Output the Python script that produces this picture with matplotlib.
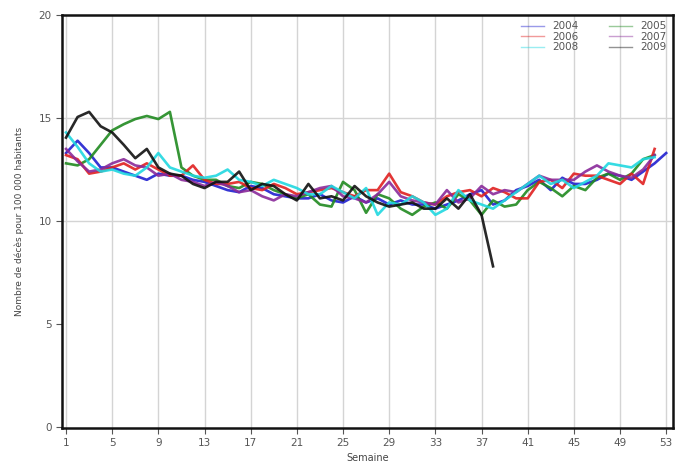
"""Weekly mortality per 100 000 inhabitants, 2004-2009."""
import numpy as np
import matplotlib
matplotlib.use('Agg')
import matplotlib.pyplot as plt

y2004 = [13.3, 13.9, 13.3, 12.6, 12.6, 12.4, 12.2, 12.0, 12.3, 12.2,
         12.2, 12.0, 11.9, 11.7, 11.5, 11.4, 11.7, 11.6, 11.3, 11.2,
         11.1, 11.1, 11.3, 11.0, 10.9, 11.2, 10.9, 11.1, 10.8, 11.0,
         10.8, 10.8, 10.6, 10.8, 11.0, 11.3, 11.5, 10.8, 11.0, 11.5,
         11.7, 12.0, 11.5, 12.1, 11.8, 11.8, 12.0, 12.3, 12.2, 12.0,
         12.4, 12.8, 13.3]
y2005 = [12.8, 12.7, 13.0, 13.7, 14.4, 14.7, 14.95, 15.1, 14.95, 15.3,
         12.6, 12.2, 12.0, 12.0, 11.7, 11.6, 11.9, 11.8, 11.5, 11.3,
         11.1, 11.3, 10.8, 10.7, 11.9, 11.5, 10.4, 11.3, 11.1, 10.6,
         10.3, 10.7, 10.9, 10.6, 11.3, 11.0, 10.3, 11.0, 10.7, 10.8,
         11.5, 11.9, 11.6, 11.2, 11.7, 11.5, 12.1, 12.3, 12.0, 12.3,
         13.0, 13.2]
y2006 = [13.2, 13.0, 12.3, 12.4, 12.6, 12.8, 12.5, 12.8, 12.5, 12.2,
         12.2, 12.7, 12.0, 11.8, 11.8, 11.9, 11.6, 11.5, 11.8, 11.6,
         11.3, 11.4, 11.5, 11.6, 11.4, 11.2, 11.5, 11.5, 12.3, 11.4,
         11.2, 10.9, 10.8, 11.2, 11.4, 11.5, 11.2, 11.6, 11.4, 11.1,
         11.1, 11.9, 12.0, 11.6, 12.3, 12.2, 12.2, 12.0, 11.8, 12.3,
         11.8, 13.5]
y2007 = [13.5, 12.9, 12.4, 12.5, 12.8, 13.0, 12.7, 12.6, 12.2, 12.3,
         12.0, 11.9, 11.7, 11.9, 11.7, 11.4, 11.5, 11.2, 11.0, 11.3,
         11.2, 11.4, 11.6, 11.7, 11.2, 11.1, 10.9, 11.3, 11.9, 11.2,
         11.0, 10.9, 10.8, 11.5, 10.9, 11.1, 11.7, 11.3, 11.5, 11.4,
         11.8, 12.2, 12.0, 12.0, 12.0, 12.4, 12.7, 12.4, 12.2, 12.1,
         12.5, 13.2]
y2008 = [14.3, 13.6, 12.8, 12.4, 12.5, 12.3, 12.2, 12.6, 13.3, 12.6,
         12.4, 12.2, 12.1, 12.2, 12.5, 12.0, 11.9, 11.7, 12.0, 11.8,
         11.6, 11.3, 11.3, 11.7, 11.4, 11.1, 11.6, 10.3, 10.9, 10.8,
         11.2, 10.9, 10.3, 10.6, 11.5, 11.0, 10.8, 10.6, 11.0, 11.4,
         11.8, 12.2, 11.8, 12.0, 11.6, 11.9, 12.2, 12.8, 12.7, 12.6,
         13.0, 13.1]
y2009 = [14.05, 15.05, 15.3, 14.6, 14.3, 13.7, 13.05, 13.5, 12.6, 12.3,
         12.2, 11.8, 11.6, 11.9, 11.9, 12.4, 11.5, 11.8, 11.7, 11.3,
         11.0, 11.8, 11.1, 11.2, 11.0, 11.7, 11.2, 10.9, 10.7, 10.8,
         10.9, 10.6, 10.6, 11.1, 10.6, 11.3, 10.3, 7.8]

series = [
    ('2004', y2004, '#2020d0'),
    ('2005', y2005, '#208a20'),
    ('2006', y2006, '#e02020'),
    ('2007', y2007, '#8a2a9a'),
    ('2008', y2008, '#20d8e0'),
    ('2009', y2009, '#101010'),
]
week_ticks = list(range(1, 54, 4))

fig = plt.figure(figsize=(6.76, 4.65), dpi=100)
ax = fig.add_axes([0.0917, 0.0796, 0.904, 0.888])

lines = {}
for name, vals, color in series:
    weeks = np.arange(1, len(vals) + 1)
    ln, = ax.plot(weeks, vals, color=color, lw=1.9, alpha=0.9, label=name)
    lines[name] = ln

for w in week_ticks:
    ax.axvline(w, color='#d4d4d4', lw=1, zorder=0)
for v in [10, 15]:
    ax.axhline(v, color='#d4d4d4', lw=1, zorder=0)

ax.set_xlim(0.65, 53.6)
ax.set_ylim(-0.05, 20)
ax.set_xticks(week_ticks)
ax.set_yticks([0, 5, 10, 15, 20])
ax.tick_params(labelsize=7.5, colors='#555555', length=4, width=0.8)
for sp in ax.spines.values():
    sp.set_linewidth(1.8)
    sp.set_color('#111111')

ax.set_xlabel('Semaine', fontsize=7, color='#444444', labelpad=3)
ax.set_ylabel('Nombre de décès pour 100 000 habitants', fontsize=6.5,
              color='#444444', labelpad=10)

# legend filled row by row: 2004 2005 / 2006 2007 / 2008 2009
order = ['2004', '2006', '2008', '2005', '2007', '2009']
handles = []
for name in order:
    c = lines[name].get_color()
    handles.append(plt.Line2D([], [], color=c, lw=1, alpha=0.45))
leg = ax.legend(handles, order, ncol=2, loc='upper right', frameon=False,
                fontsize=7.5, handlelength=2.2, columnspacing=3.0,
                labelspacing=0.05, borderaxespad=0.2, handletextpad=0.8,
                labelcolor='#555555')

plt.savefig('out.png', dpi=100)
plt.close()
